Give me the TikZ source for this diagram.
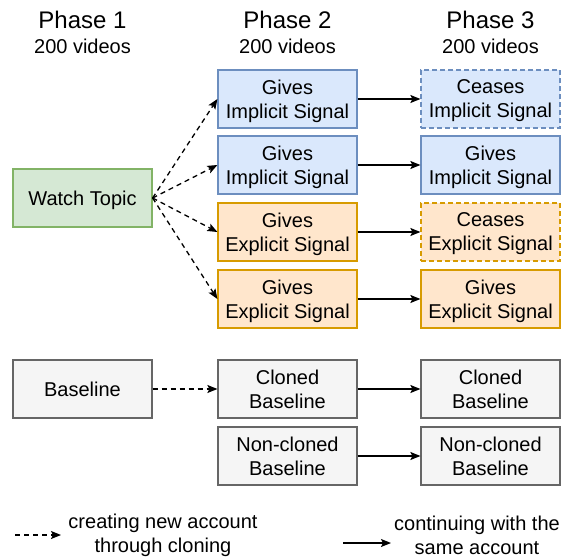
\documentclass[tikz,border=0pt]{standalone}
\usepackage{fontspec}
\setmainfont{Liberation Sans}
\usetikzlibrary{arrows.meta}

\definecolor{impfill}{HTML}{DAE8FC}
\definecolor{impline}{HTML}{6C8EBF}
\definecolor{expfill}{HTML}{FFE6CC}
\definecolor{expline}{HTML}{D79B00}
\definecolor{topfill}{HTML}{D5E8D4}
\definecolor{topline}{HTML}{82B366}
\definecolor{basefill}{HTML}{F5F5F5}
\definecolor{baseline}{HTML}{666666}

\tikzset{
	box/.style={draw, line width=1.2pt, minimum width=139pt, minimum height=58pt,
		inner sep=0pt, text depth=0pt, align=center, font=\fontsize{20}{24}\selectfont},
	impbox/.style={box, draw=impline, fill=impfill},
	expbox/.style={box, draw=expline, fill=expfill},
	topbox/.style={box, draw=topline, fill=topfill},
	basebox/.style={box, draw=baseline, fill=basefill},
	ceased/.style={dash pattern=on 5pt off 3pt},
	clone/.style={-{Stealth[length=10pt,width=8pt,inset=2pt]}, line width=1.3pt, dash pattern=on 5pt off 4pt},
	same/.style={-{Stealth[length=10pt,width=8pt,inset=2pt]}, line width=1.3pt},
	head/.style={align=center, inner sep=0pt}
}

\begin{document}
\begin{tikzpicture}[x=1pt,y=-1pt]
	\useasboundingbox (0,0) rectangle (563,559);
	\def\colA{82.5}
	\def\colB{287.5}
	\def\colC{490.5}

	% phase headings
	\foreach \n/\x in {1/\colA,2/\colB,3/\colC}{
		\node[head, font=\fontsize{24}{26}\selectfont] (ph\n) at (\x,20) {Phase \n};
		\node[head, font=\fontsize{20}{24}\selectfont] (vid\n) at (\x,46) {200 videos};
	}

	% phase 1
	\node[topbox] (topic) at (\colA,198) {Watch Topic};
	\node[basebox] (base) at (\colA,389) {Baseline};

	% phase 2
	\node[impbox] (impA) at (\colB,99) {Gives\\Implicit Signal};
	\node[impbox] (impB) at (\colB,165) {Gives\\Implicit Signal};
	\node[expbox] (expA) at (\colB,232) {Gives\\Explicit Signal};
	\node[expbox] (expB) at (\colB,299) {Gives\\Explicit Signal};
	\node[basebox] (clbase) at (\colB,389) {Cloned\\Baseline};
	\node[basebox] (ncbase) at (\colB,456) {Non-cloned\\Baseline};

	% phase 3
	\node[impbox, ceased] (impAc) at (\colC,99) {Ceases\\Implicit Signal};
	\node[impbox] (impBc) at (\colC,165) {Gives\\Implicit Signal};
	\node[expbox, ceased] (expAc) at (\colC,232) {Ceases\\Explicit Signal};
	\node[expbox] (expBc) at (\colC,299) {Gives\\Explicit Signal};
	\node[basebox] (clbasec) at (\colC,389) {Cloned\\Baseline};
	\node[basebox] (ncbasec) at (\colC,456) {Non-cloned\\Baseline};

	\foreach \t in {impA,impB,expA,expB}
		\draw[clone] (topic.east) -- (\t.west);
	\draw[clone] (base) -- (clbase);

	\foreach \s/\t in {impA/impAc,impB/impBc,expA/expAc,expB/expBc,clbase/clbasec,ncbase/ncbasec}
		\draw[same] (\s) -- (\t);

	% legend
	\coordinate (cloneS) at (15,535);
	\coordinate (cloneE) at (61,535);
	\coordinate (sameS) at (343,543);
	\coordinate (sameE) at (391,543);
	\draw[clone] (cloneS) -- (cloneE);
	\draw[same] (sameS) -- (sameE);
	\node[head, font=\fontsize{20}{24}\selectfont] (cloneT) at (163,535) {creating new account\\through cloning};
	\node[head, font=\fontsize{20}{24}\selectfont] (sameT) at (477,535) {continuing with the\\same account};
\end{tikzpicture}
\end{document}
